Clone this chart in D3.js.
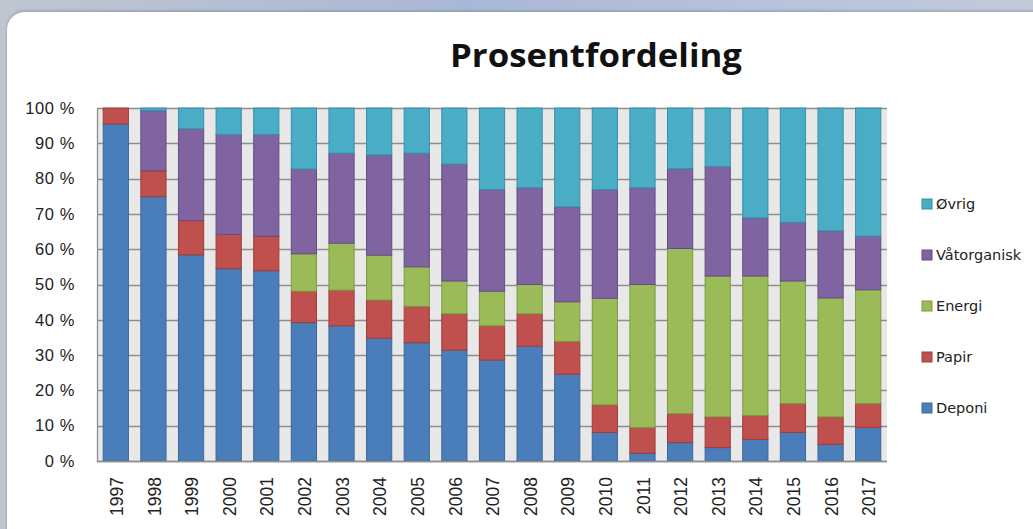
<!DOCTYPE html>
<html>
<head>
<meta charset="utf-8">
<script src="https://cdn.jsdelivr.net/npm/d3@7"></script>
<style>
  html, body { margin: 0; padding: 0; background: #b9c2d2; }
  svg { display: block; }
</style>
</head>
<body>
<svg id="chart" width="1033" height="529"></svg>
<script>
// ---- Data (percent shares) ----
const years = ["1997","1998","1999","2000","2001","2002","2003","2004","2005","2006","2007",
               "2008","2009","2010","2011","2012","2013","2014","2015","2016","2017"];
const deponi      = [95.5, 74.9, 58.4, 54.5, 53.9, 39.2, 38.3, 34.8, 33.5, 31.4, 28.6, 32.5, 24.6,  8.1,  2.2,  5.2,  3.8,  6.1,  8.1,  4.7,  9.5];
const papir       = [ 4.5,  7.3,  9.7,  9.7,  9.8,  8.9, 10.1, 10.8, 10.3, 10.3,  9.7,  9.2,  9.3,  7.8,  7.3,  8.2,  8.7,  6.8,  8.2,  7.8,  6.8];
const energi      = [ 0.0,  0.0,  0.0,  0.0,  0.0, 10.6, 13.3, 12.7, 11.2,  9.3,  9.8,  8.3, 11.2, 30.2, 40.5, 46.8, 39.9, 39.5, 34.7, 33.7, 32.2];
const vatorganisk = [ 0.0, 17.1, 26.0, 28.3, 28.8, 24.0, 25.5, 28.4, 32.2, 33.1, 28.8, 27.4, 26.9, 30.8, 27.4, 22.6, 31.0, 16.5, 16.6, 19.0, 15.2];
const ovrig       = [ 0.0,  0.7,  5.9,  7.5,  7.5, 17.3, 12.8, 13.3, 12.8, 15.9, 23.1, 22.6, 28.0, 23.1, 22.6, 17.2, 16.6, 31.1, 32.4, 34.8, 36.3];
const seriesNames = ["Deponi", "Papir", "Energi", "Våtorganisk", "Øvrig"];
const yTicks = [0, 10, 20, 30, 40, 50, 60, 70, 80, 90, 100];
const title = "Prosentfordeling";

// ---- Styles ----
const fills   = ["#4a7ebb", "#c0504d", "#9bbb59", "#8064a2", "#4bacc6"];
const strokes = ["#3a6798", "#9e3d3a", "#7d9a44", "#644d83", "#3591aa"];

const svg = d3.select("#chart");

// background slide
const defs = svg.append("defs");
const bg = defs.append("linearGradient").attr("id", "bg").attr("x1", 0).attr("x2", 1).attr("y1", 0).attr("y2", 0);
bg.append("stop").attr("offset", "0%").attr("stop-color", "#bfc6d0");
bg.append("stop").attr("offset", "45%").attr("stop-color", "#a9b8d6");
bg.append("stop").attr("offset", "75%").attr("stop-color", "#b7c3dc");
bg.append("stop").attr("offset", "100%").attr("stop-color", "#c3cbda");
svg.append("rect").attr("width", 1033).attr("height", 529).attr("fill", "url(#bg)");

const sh = defs.append("filter").attr("id", "sh").attr("x", "-5%").attr("y", "-5%").attr("width", "110%").attr("height", "110%");
sh.append("feDropShadow").attr("dx", 0).attr("dy", -1).attr("stdDeviation", 1.5).attr("flood-color", "#6d7890").attr("flood-opacity", 0.6);

svg.append("rect").attr("x", 7).attr("y", 12).attr("width", 1060).attr("height", 560)
  .attr("rx", 18).attr("fill", "#ffffff").attr("filter", "url(#sh)");

// ---- Scales ----
const margin = { left: 97, right: 887, top: 108, bottom: 461 };
const x = d3.scaleBand().domain(years).range([margin.left, margin.right]).paddingInner(0.33).paddingOuter(0.165);
const y = d3.scaleLinear().domain([0, 1]).range([margin.bottom, margin.top]);

// data table for the stack
const table = years.map((yr, i) => ({
  year: yr,
  "Deponi": deponi[i], "Papir": papir[i], "Energi": energi[i],
  "Våtorganisk": vatorganisk[i], "Øvrig": ovrig[i]
}));
const stacked = d3.stack().keys(seriesNames).offset(d3.stackOffsetExpand)(table);

// plot background
svg.append("rect").attr("x", margin.left).attr("y", margin.top)
  .attr("width", margin.right - margin.left).attr("height", margin.bottom - margin.top)
  .attr("fill", "#e8e8e8");

// gridlines
svg.append("g").selectAll("line").data(yTicks).join("line")
  .attr("x1", margin.left).attr("x2", margin.right)
  .attr("y1", d => Math.round(y(d / 100)) + 0.5).attr("y2", d => Math.round(y(d / 100)) + 0.5)
  .attr("stroke", "#8e8e8e").attr("stroke-width", 1.3);

// bars
const g = svg.append("g");
stacked.forEach((layer, si) => {
  g.append("g").selectAll("rect")
    .data(layer.filter(d => d[1] - d[0] > 0))
    .join("rect")
    .attr("x", d => x(d.data.year))
    .attr("width", x.bandwidth())
    .attr("y", d => y(d[1]))
    .attr("height", d => y(d[0]) - y(d[1]))
    .attr("fill", fills[si])
    .attr("stroke", strokes[si])
    .attr("stroke-width", 1);
});

// axes lines
svg.append("line").attr("x1", margin.left + 0.5).attr("x2", margin.left + 0.5)
  .attr("y1", margin.top).attr("y2", margin.bottom + 1).attr("stroke", "#8e8e8e").attr("stroke-width", 1.3);
svg.append("line").attr("x1", margin.left).attr("x2", margin.right)
  .attr("y1", margin.bottom + 0.5).attr("y2", margin.bottom + 0.5).attr("stroke", "#8e8e8e").attr("stroke-width", 1.3);

// y axis labels
const yAxis = d3.axisLeft(y).tickValues(yTicks.map(d => d / 100)).tickSize(0).tickPadding(22)
  .tickFormat(d => Math.round(d * 100) + " %");
const ya = svg.append("g").attr("transform", `translate(${margin.left},0)`).call(yAxis);
ya.select(".domain").remove();
ya.selectAll("text").attr("font-family", "Liberation Sans, Arial, sans-serif")
  .attr("font-size", 16.5).attr("letter-spacing", "0.6px").attr("fill", "#222");

// x axis labels (rotated)
const xAxis = d3.axisBottom(x).tickSize(0).tickPadding(0);
const xa = svg.append("g").attr("transform", `translate(0,${margin.bottom})`).call(xAxis);
xa.select(".domain").remove();
xa.selectAll("text")
  .attr("font-family", "Liberation Sans, Arial, sans-serif").attr("font-size", 17.5).attr("fill", "#222")
  .attr("text-anchor", "end").attr("dy", "0.35em").attr("dx", 0)
  .attr("transform", "translate(1,16) rotate(-90)")
  .attr("y", 0).attr("x", 0);

// title
svg.append("text").attr("x", 596).attr("y", 67).attr("text-anchor", "middle")
  .attr("font-family", "Open Sans, sans-serif").attr("font-weight", "bold").attr("font-size", 32)
  .attr("textLength", 292).attr("lengthAdjust", "spacingAndGlyphs")
  .attr("fill", "#111").text(title);

// legend (top to bottom: reverse order)
const legendOrder = seriesNames.map((n, i) => ({ n, i })).reverse();
const lg = svg.append("g").selectAll("g").data(legendOrder).join("g")
  .attr("transform", (d, k) => `translate(922,${204 + k * 51})`);
lg.append("rect").attr("x", 0).attr("y", -5).attr("width", 10).attr("height", 10)
  .attr("fill", d => fills[d.i]).attr("stroke", d => strokes[d.i]);
lg.append("text").attr("x", 14).attr("y", 0).attr("dy", "0.36em")
  .attr("font-family", "DejaVu Sans, sans-serif").attr("font-size", 14.5).attr("fill", "#222")
  .text(d => d.n);
</script>
</body>
</html>
